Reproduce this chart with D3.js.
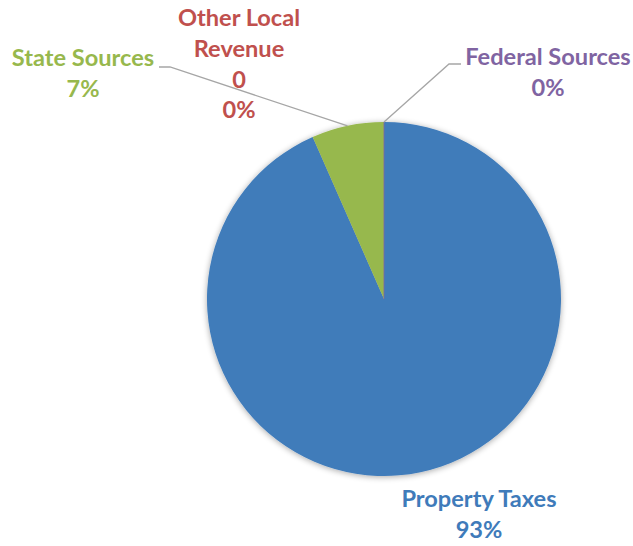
<!DOCTYPE html>
<html>
<head>
<meta charset="utf-8">
<script src="https://cdn.jsdelivr.net/npm/d3@7"></script>
<style>
  html, body { margin: 0; padding: 0; background: #fff; }
  svg { display: block; }
  .lbl { font-family: Lato, "Open Sans", sans-serif; font-weight: bold; }
</style>
</head>
<body>
<div id="chart"></div>
<script>
// data
var categories = ["Property Taxes", "State Sources", "Other Local Revenue", "Federal Sources"];
var values = [93.4, 6.6, 0, 0];
var colors = ["#3F7BBA", "#97B84D", "#C0504D", "#8064A2"];
// which parts each data label shows
var showValue = [false, false, true, false];

var width = 633, height = 546;
var cx = 384, cy = 299, radius = 177;
var fontSize = 23.6, lineH = 30.8;

// label placement (centre x, first baseline y, leader elbow)
var labelLayout = [
  { x: 479, y: 507 },
  { x: 83, y: 66, elbow: [[159, 67], [170, 67]] },
  { x: 239, y: 26 },
  { x: 548, y: 65, elbow: [[461, 64], [449, 64]] }
];

var svg = d3.select("#chart").append("svg")
    .attr("width", width)
    .attr("height", height);

var defs = svg.append("defs");
var shadow = defs.append("filter").attr("id", "shadow")
    .attr("x", "-10%").attr("y", "-10%").attr("width", "120%").attr("height", "120%");
shadow.append("feGaussianBlur").attr("in", "SourceAlpha").attr("stdDeviation", 3);
shadow.append("feOffset").attr("dx", 0).attr("dy", 1).attr("result", "blur");
shadow.append("feComponentTransfer").append("feFuncA").attr("type", "linear").attr("slope", 0.35);
var merge = shadow.append("feMerge");
merge.append("feMergeNode");
merge.append("feMergeNode").attr("in", "SourceGraphic");

var total = d3.sum(values);
var pie = d3.pie().sort(null).value(function(d) { return d; });
var arcs = pie(values);
var arc = d3.arc().innerRadius(0).outerRadius(radius);

var g = svg.append("g").attr("transform", "translate(" + cx + "," + cy + ")");

g.append("g").attr("filter", "url(#shadow)")
  .selectAll("path")
  .data(arcs)
  .enter().append("path")
    .attr("d", arc)
    .attr("fill", function(d, i) { return colors[i]; });

// zero slice at the end shows up as a hairline
arcs.forEach(function(d, i) {
  if (d.value === 0 && i === arcs.length - 1) {
    var a = d.startAngle;
    g.append("line")
      .attr("x1", 0).attr("y1", 0)
      .attr("x2", radius * Math.sin(a)).attr("y2", -radius * Math.cos(a))
      .attr("stroke", colors[i]).attr("stroke-width", 1).attr("opacity", 0.8);
  }
});

// leader lines
arcs.forEach(function(d, i) {
  var L = labelLayout[i];
  if (!L.elbow) return;
  var mid = (d.startAngle + d.endAngle) / 2;
  var px = cx + radius * Math.sin(mid), py = cy - radius * Math.cos(mid);
  var pts = L.elbow.concat([[px, py]]);
  svg.append("path")
    .attr("d", d3.line()(pts))
    .attr("fill", "none")
    .attr("stroke", "#A6A6A6")
    .attr("stroke-width", 1.3);
});

// data labels
arcs.forEach(function(d, i) {
  var L = labelLayout[i];
  var pct = Math.round(d.value / total * 100) + "%";
  var lines;
  if (categories[i] === "Other Local Revenue") {
    lines = ["Other Local", "Revenue"];
  } else {
    lines = [categories[i]];
  }
  if (showValue[i]) lines.push(String(d.value));
  lines.push(pct);
  var t = svg.append("text")
    .attr("class", "lbl")
    .attr("text-anchor", "middle")
    .attr("font-size", fontSize)
    .attr("fill", colors[i]);
  lines.forEach(function(s, k) {
    t.append("tspan").attr("x", L.x).attr("y", L.y + k * lineH).text(s);
  });
});
</script>
</body>
</html>
